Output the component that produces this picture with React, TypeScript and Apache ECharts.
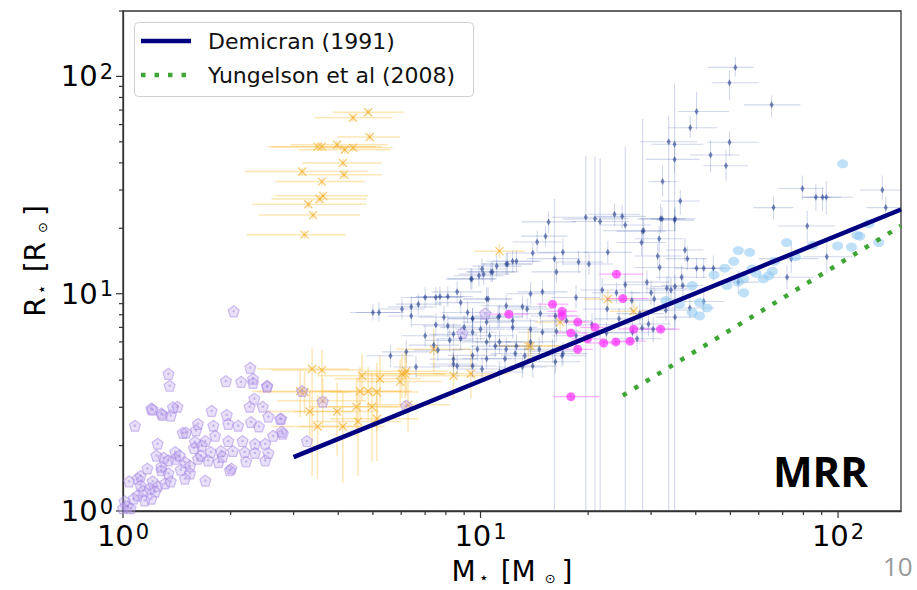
import React, { useEffect, useRef } from 'react';
import * as echarts from 'echarts';

// Axis ranges and ticks
const X_MIN = 1;
const X_MAX = 150;
const Y_MIN = 1;
const Y_MAX = 200;
const majorTicks = [1, 10, 100];
const xMinorTicks = [2, 3, 4, 5, 6, 7, 8, 9, 20, 30, 40, 50, 60, 70, 80, 90];
const yMinorTicks = [2, 3, 4, 5, 6, 7, 8, 9, 20, 30, 40, 50, 60, 70, 80, 90, 200];

// Relations
const demircanLine = [[3, 1.77], [150, 24.4]];
const yungelsonLine = [[25, 3.4], [150, 20.5]];

// Purple pentagons [M, R]
const purpleStars = [
  [2.04, 8.3], [2.27, 4.56], [1.34, 4.28], [1.35, 3.77], [1.94, 3.96], [2.14, 3.93], [2.31, 3.89], [2.53, 3.77],
  [2.33, 3.29], [2.26, 3.02], [2.46, 3.02], [1.2, 2.96], [1.42, 3.02], [1.28, 2.81], [1.36, 2.75], [1.77, 2.89],
  [1.95, 2.77], [2.77, 2.66], [2.55, 2.72], [1.08, 2.47], [1.62, 2.52], [1.79, 2.47], [1.97, 2.52], [2.1, 2.47],
  [2.28, 2.57], [1.47, 2.29], [1.5, 2.3], [1.81, 2.22], [1.25, 2.04], [2.63, 2.22], [2.8, 2.27], [1.7, 2.1],
  [1.59, 2.08], [1.97, 2.1], [2.16, 2.1], [2.34, 2.04], [2.5, 2.04], [1.4, 1.87], [1.76, 1.87], [1.88, 1.89],
  [2.03, 1.89], [2.19, 1.87], [2.34, 1.85], [2.55, 1.85], [1.24, 1.8], [1.3, 1.76], [1.4, 1.74], [1.34, 1.71],
  [1.49, 1.68], [1.54, 1.61], [1.62, 1.74], [1.73, 1.71], [1.85, 1.68], [2.01, 1.57], [2.21, 1.69], [2.5, 1.71],
  [1.17, 1.57], [1.28, 1.54], [1.34, 1.49], [1.54, 1.49], [1.49, 1.41], [1.7, 1.38], [1.99, 1.54], [1.1, 1.41],
  [1.04, 1.37], [1.21, 1.37], [1.19, 1.27], [1.25, 1.3], [1.23, 1.23], [1.31, 1.34], [1.36, 1.37], [1.1, 1.18],
  [1.07, 1.14], [1.15, 1.12], [1.2, 1.14], [1.01, 1.11], [1.03, 1.05], [1.0, 1.03], [1.05, 1.03], [1.14, 1.24],
  [1.12, 1.31], [1.44, 1.8], [1.65, 1.8], [2.75, 2.66], [2.78, 2.32], [3.27, 2.1], [2.31, 4.06], [2.53, 3.73],
  [1.21, 2.93], [1.29, 2.77], [1.38, 3.0], [3.17, 3.57], [3.62, 3.19], [6.2, 3.05], [10.3, 8.1], [8.9, 6.6],
  [1.58, 1.95], [1.66, 2.0], [1.9, 1.78], [1.28, 1.6], [1.45, 1.55], [1.12, 1.45], [2.4, 2.45], [1.6, 2.35],
];

// Orange crosses with error bars [M, R, Mlo, Mhi, Rlo, Rhi]
const orangeStars = [
  [4.85, 68.4, 3.86, 6.09, 66, 71], [4.4, 64.5, 3.44, 5.68, 62, 67], [4.9, 52.6, 3.97, 5.96, 50.5, 55],
  [3.5, 47.5, 2.55, 5.3, 45.5, 49.5], [3.6, 47.5, 2.6, 5.1, 45.5, 49.5], [3.97, 48.5, 2.94, 5.5, 46.5, 50.5],
  [4.17, 46, 3.1, 5.6, 44, 48], [4.4, 47, 3.44, 5.68, 45, 49], [4.12, 40, 3.17, 5.3, 38.3, 41.8],
  [4.15, 35.3, 3.1, 5.3, 33.8, 36.8], [3.17, 36.5, 2.19, 4.84, 35, 38], [3.6, 32.8, 2.66, 4.75, 31.4, 34.2],
  [3.63, 28.2, 2.66, 4.84, 27, 29.4], [3.55, 27.3, 2.6, 4.8, 26.2, 28.4], [3.3, 25.8, 2.3, 4.8, 24.7, 26.9],
  [3.4, 23, 2.4, 4.6, 22, 24], [3.22, 18.7, 2.22, 4.2, 17.9, 19.5],
  [3.38, 4.5, 2.37, 4.3, 1.45, 5.6], [3.6, 4.45, 2.6, 4.7, 3.4, 5.5], [3.13, 3.56, 2.3, 4.1, 2.7, 4.5],
  [3.22, 3.53, 2.4, 4.3, 2.8, 4.4], [3.62, 3.22, 2.7, 4.8, 2.4, 4.1], [3.33, 2.87, 2.5, 4.4, 2.2, 3.6],
  [3.97, 2.87, 3.0, 5.2, 1.8, 3.9], [3.5, 2.45, 2.6, 4.6, 1.4, 3.4], [4.12, 2.45, 3.1, 5.4, 1.35, 3.5],
  [4.66, 4.19, 3.5, 6.1, 3.2, 5.3], [5.23, 4.06, 3.9, 6.8, 3.1, 5.2], [4.6, 3.56, 3.4, 6.0, 2.7, 4.6],
  [4.85, 3.56, 3.6, 6.4, 2.6, 4.6], [5.13, 3.53, 3.8, 6.7, 2.3, 4.8], [4.5, 3.02, 3.3, 5.9, 2.2, 4.1],
  [4.97, 3.02, 3.7, 6.5, 1.7, 4.3], [4.54, 2.58, 3.4, 6.0, 1.45, 3.5], [5.13, 2.66, 3.8, 6.7, 1.7, 3.6],
  [5.96, 3.94, 4.5, 7.8, 3.0, 5.0], [6.15, 4.28, 4.7, 8.0, 3.3, 5.4], [6.27, 3.08, 4.8, 8.2, 2.3, 4.0],
  [6.03, 4.28, 4.6, 7.9, 3.3, 5.3], [6.2, 4.4, 4.7, 8.1, 3.4, 5.5], [8.4, 4.19, 6.6, 10.7, 3.3, 5.3],
  [9.4, 4.28, 7.4, 12, 3.3, 5.5], [13.6, 5.74, 11, 16.8, 4.8, 6.9], [7.4, 5.55, 5.8, 9.4, 4.4, 6.9],
  [11.3, 15.7, 9.6, 13.3, 14.5, 17], [13.8, 5.74, 11.3, 16.8, 4.9, 6.7], [22.7, 9.46, 19.4, 26.6, 8.6, 10.4],
  [16.7, 7.4, 14.2, 19.6, 6.7, 8.2], [26.8, 8.3, 23, 31.3, 7.5, 9.2],
];

// Blue points with error bars [M, R, Mlo, Mhi, Rlo, Rhi]
const blueStars = [
  [51.6, 110, 43.3, 58, 100, 123], [49.7, 93.5, 44.3, 60, 78, 107], [65.2, 74, 54.6, 78.5, 65, 82],
  [40.2, 69, 35.7, 49.5, 57, 85], [38.6, 58, 33.5, 46, 52, 66], [33.6, 50, 27.9, 40.4, 0.8, 66],
  [34.9, 48.7, 30, 42, 0.8, 93], [34.9, 41.5, 29, 41, 36, 48], [44, 43.5, 38.5, 53, 36, 51],
  [49.7, 49.8, 43, 60, 43, 56], [48.6, 38.8, 42, 56, 33, 46], [32.3, 32.8, 29.5, 35.5, 28, 39],
  [36.2, 26.7, 32, 41, 23, 30], [31.9, 22.1, 28, 36, 19, 26], [34.9, 21.8, 31, 39.5, 19.5, 24.5],
  [28.6, 19.5, 22, 35, 17, 22], [79.5, 30.5, 68, 91, 27, 35], [86.7, 27.8, 79, 96, 24, 32],
  [90.5, 27.8, 80, 102, 24, 31], [92.7, 27.8, 82, 110, 23, 33], [66, 24.9, 58, 75, 22, 28],
  [133, 30, 115, 150, 27, 35], [136, 24.9, 120, 150, 22, 28], [82, 20.5, 68, 98, 17, 24],
  [93, 14.8, 80, 110, 12.5, 18], [74, 14.5, 60, 88, 12.5, 17], [72, 11.9, 60, 86, 10.5, 13.5],
  [37.3, 15.9, 33, 42, 14, 18], [37.9, 14.5, 33, 43, 12.8, 16.5], [40.2, 13.1, 35, 46, 11.8, 14.6],
  [42.1, 13.1, 37, 48, 11.8, 14.6], [44.8, 13.1, 39, 51, 11.5, 15], [31.7, 13.2, 27, 37, 11.5, 15],
  [36.5, 11.9, 31, 43, 10.5, 13.5], [35, 10.8, 30, 40, 9.5, 12.2], [36.8, 10.9, 32, 42, 9.6, 12.4],
  [33.2, 10.6, 29, 38, 9.3, 12], [30, 10.1, 26, 35, 8.9, 11.5], [42.1, 9.2, 37, 48, 8.2, 10.4],
  [35, 7.8, 31, 40, 6.9, 8.8], [28.3, 6.95, 25, 32, 6.1, 7.9], [30.4, 6.87, 26.5, 35, 6.0, 7.8],
  [52.6, 11.3, 46, 60, 10, 12.8],
  [19.7, 22.5, 15.8, 25.5, 0.8, 42.9], [20.9, 22.1, 17, 26, 0.8, 42.9], [21.6, 21.5, 18, 26, 0.8, 42],
  [23.7, 23.2, 20, 28, 20.5, 26], [24.9, 22.7, 21, 29, 20, 25.5], [25.4, 20.7, 21.5, 30, 0.8, 47.5],
  [28.4, 19.4, 24, 33, 0.8, 63.6], [28.2, 17.2, 24, 33, 15, 19.5], [32.2, 22.1, 27.5, 37.5, 19.5, 25],
  [35, 22.1, 30, 40, 19.5, 25], [15.5, 21.4, 13, 18.5, 19, 24], [15.2, 18.4, 13, 17.5, 16.5, 20.5],
  [14.4, 17.3, 12.3, 16.8, 15.5, 19.5], [14, 15.4, 11.8, 16.5, 13.8, 17.2], [12.3, 14.1, 10.4, 14.5, 12.6, 15.8],
  [11.8, 13.7, 10, 14, 12.2, 15.4], [10.8, 12.6, 9.2, 12.8, 11.3, 14], [10.2, 12.3, 8.7, 12, 11, 13.8],
  [17, 15.5, 14.5, 20, 13.5, 18], [16.1, 14.5, 13.5, 19, 0.8, 27.3], [22.7, 15.5, 19.5, 26.5, 13.8, 17.5],
  [20.1, 13.7, 17, 23.5, 12.2, 15.4], [18.8, 14, 16, 22, 12.5, 15.8], [31.6, 17.9, 27, 37, 15.5, 20.5],
  [31.3, 14.9, 27, 36.5, 13, 17], [25.4, 11, 22, 29.5, 9.8, 12.4], [29.2, 11.3, 25, 34, 10, 12.8],
  [34.1, 10.4, 29.5, 39.5, 9.2, 11.8], [30.6, 9.46, 26.5, 35.5, 8.4, 10.7], [21.9, 10.4, 19, 25.5, 9.2, 11.8],
  [13.8, 10, 11.8, 16.2, 8.9, 11.3], [14.9, 10.2, 12.7, 17.5, 9, 11.5], [18.5, 9.6, 15.8, 21.5, 8.5, 10.9],
  [11.8, 8.8, 10, 13.8, 7.8, 9.9], [13.1, 8.7, 11.2, 15.3, 7.7, 9.8], [10.5, 9.46, 9, 12.3, 8.4, 10.7],
  [14.7, 8.1, 12.5, 17.2, 7.2, 9.1], [16.2, 7.9, 13.8, 19, 7, 8.9], [17.4, 7.5, 14.8, 20.5, 6.6, 8.5],
  [22.6, 8.5, 19.3, 26.5, 7.5, 9.6], [24.4, 7.66, 20.8, 28.5, 6.8, 8.6], [27.9, 8.1, 24, 32.5, 7.2, 9.1],
  [29.5, 7.25, 25.5, 34, 6.4, 8.2], [11.3, 7.9, 9.6, 13.2, 7, 8.9], [10.4, 7.4, 8.9, 12.2, 6.6, 8.3],
  [12.3, 7.0, 10.5, 14.4, 6.2, 7.9], [13.8, 6.87, 11.8, 16.2, 6.1, 7.7], [14.9, 6.65, 12.7, 17.5, 5.9, 7.5],
  [16.3, 6.72, 13.9, 19.1, 6, 7.6], [18.5, 6.4, 15.8, 21.7, 5.7, 7.2], [26.6, 6.65, 22.7, 31.2, 5.9, 7.5],
  [27.4, 6.2, 23.4, 32.1, 5.5, 7], [10.6, 6.4, 9, 12.4, 5.7, 7.2], [11.3, 6.0, 9.6, 13.2, 5.3, 6.8],
  [12.6, 5.74, 10.8, 14.8, 5.1, 6.5], [13.8, 6.0, 11.8, 16.2, 5.3, 6.8], [14.6, 5.55, 12.5, 17.1, 4.9, 6.3],
  [15.9, 5.44, 13.6, 18.6, 4.8, 6.2], [17, 5.3, 14.5, 19.9, 4.7, 6], [10.4, 5.02, 8.9, 12.2, 4.5, 5.6],
  [11.7, 5.02, 10, 13.7, 4.5, 5.6], [13.3, 5.18, 11.4, 15.6, 4.6, 5.8], [16.2, 4.86, 13.8, 19, 4.3, 5.5],
  [10.1, 4.5, 8.6, 11.8, 4, 5.1], [11.3, 4.36, 9.6, 13.2, 3.9, 4.9], [14, 4.65, 12, 16.4, 4.1, 5.2],
  [5.0, 8.2, 4.32, 5.96, 7.5, 9], [5.2, 8.2, 4.5, 6.1, 7.4, 9.1], [6.03, 8.5, 5.2, 7, 7.6, 9.5],
  [6.4, 8.7, 5.5, 7.4, 7.8, 9.7], [6.7, 8.95, 5.8, 7.8, 8, 10], [7.0, 9.6, 6, 8.2, 8.6, 10.7],
  [7.5, 9.6, 6.4, 8.8, 8.6, 10.7], [7.7, 9.7, 6.6, 9, 8.7, 10.8], [8.1, 9.7, 6.9, 9.5, 8.7, 10.8],
  [8.6, 10.2, 7.3, 10.1, 9.1, 11.4], [9.46, 11.7, 8.1, 11.1, 10.5, 13], [9.9, 12.1, 8.4, 11.6, 10.8, 13.5],
  [10.7, 12.6, 9.1, 12.5, 11.3, 14], [10.1, 13.0, 8.6, 11.8, 11.6, 14.5], [11.1, 13.4, 9.5, 13, 12, 15],
  [6.4, 7.9, 5.5, 7.4, 7, 8.9], [5.6, 5.18, 4.8, 6.5, 4.6, 5.8], [6.2, 5.4, 5.3, 7.2, 4.8, 6.1],
  [7.0, 6.4, 6, 8.2, 5.7, 7.2], [7.5, 7.2, 6.4, 8.8, 6.4, 8.1], [7.9, 7.8, 6.7, 9.2, 6.9, 8.8],
  [8.1, 7.1, 6.9, 9.5, 6.3, 8], [7.4, 5.8, 6.3, 8.7, 5.2, 6.5], [7.6, 5.5, 6.5, 8.9, 4.9, 6.2],
  [8.4, 6.5, 7.2, 9.8, 5.8, 7.3], [8.8, 6.2, 7.5, 10.3, 5.5, 7], [8.4, 5.0, 7.2, 9.8, 4.5, 5.6],
  [8.6, 4.65, 7.3, 10.1, 4.1, 5.2], [9.2, 8.2, 7.8, 10.8, 7.3, 9.2], [9.5, 7.7, 8.1, 11.1, 6.9, 8.6],
  [9.0, 7.0, 7.7, 10.5, 6.2, 7.9], [9.5, 6.65, 8.1, 11.1, 5.9, 7.5], [10, 6.87, 8.5, 11.7, 6.1, 7.7],
  [9.5, 5.2, 8.1, 11.1, 4.6, 5.8], [10.4, 9.46, 8.9, 12.2, 8.4, 10.7], [6.6, 4.6, 5.7, 7.7, 4.1, 5.2],
  [8.8, 9.1, 7.5, 10.3, 8.1, 10.2], [10.4, 6.0, 8.9, 12.2, 5.3, 6.8],
  [11.9, 13.7, 10.2, 13.9, 12.2, 15.4], [12.6, 14.1, 10.8, 14.8, 12.6, 15.8], [9.4, 11.7, 8, 11, 10.4, 13.1],
  [16.3, 12.6, 13.9, 19.1, 11.2, 14.1], [9.5, 7.66, 8.1, 11.1, 6.8, 8.6], [11.2, 7.8, 9.6, 13.1, 6.9, 8.8],
  [12.3, 7.5, 10.5, 14.4, 6.7, 8.4], [13.5, 8.5, 11.5, 15.8, 7.6, 9.5], [8.2, 6.1, 7, 9.6, 5.4, 6.9],
  [9.8, 5.55, 8.4, 11.5, 4.9, 6.3], [11, 5.74, 9.4, 12.9, 5.1, 6.5], [11.8, 5.55, 10.1, 13.8, 4.9, 6.3],
  [12.5, 5.3, 10.7, 14.6, 4.7, 6], [8.4, 4.75, 7.2, 9.8, 4.2, 5.4], [9.5, 4.65, 8.1, 11.1, 4.1, 5.2],
  [13.1, 4.6, 11.2, 15.3, 4.1, 5.2], [16.9, 5.18, 14.4, 19.8, 4.6, 5.8],
  [24, 10.1, 20.5, 28, 9, 11.3], [26.5, 9.3, 22.6, 31, 8.3, 10.4], [20.5, 7.2, 17.5, 24, 6.4, 8.1],
  [22.5, 6.6, 19.2, 26.3, 5.9, 7.4], [33, 8.4, 28.2, 38.6, 7.5, 9.4], [38.5, 8.6, 33, 45, 7.7, 9.6],
];

// Magenta points [M, R, Mlo, Mhi, Rlo, Rhi]
const magentaStars = [
  [24, 12.3, 21.5, 28.5, 11.9, 12.7], [25, 9.5, 22.5, 29.5, 9.2, 9.8], [15.9, 8.95, 14.4, 17.6, 8.7, 9.2],
  [16.9, 8.3, 15.4, 18.6, 8.05, 8.55], [16.9, 7.9, 15.4, 18.6, 7.65, 8.15], [12, 8.05, 10.4, 13.6, 7.8, 8.3],
  [18.7, 7.4, 17, 20.6, 7.2, 7.6], [20.9, 7.0, 19, 23, 6.8, 7.2], [26.8, 6.87, 24.3, 29.6, 6.67, 7.07],
  [31.9, 6.87, 28.6, 36, 6.67, 7.07], [17.9, 6.6, 16.2, 19.8, 6.4, 6.8], [19.9, 6.2, 18, 22, 6.0, 6.4],
  [22.1, 5.93, 20, 24.5, 5.75, 6.1], [23.9, 6.0, 21.6, 26.5, 5.8, 6.2], [26.2, 6.05, 23.7, 29, 5.85, 6.25],
  [18.7, 5.55, 17, 20.6, 5.38, 5.72], [17.9, 3.36, 16, 21.5, 3.26, 3.46],
];

// Light blue points [M, R]
const cyanStars = [
  [103, 39.6], [71.8, 17.2], [52.6, 15.8], [56.6, 15.5], [51.1, 14.1], [48.2, 13.1], [76, 14.8], [66.4, 14.1],
  [48.9, 10.9], [54.5, 11.7], [52.6, 11.3], [57.5, 13.0], [61.8, 11.7], [64, 12.1], [65.5, 12.7], [54.5, 10.1],
  [39.1, 10.9], [41, 9.1], [43, 8.6], [39.1, 8.2], [41, 7.9], [36, 8.95], [99.7, 16.6], [109, 16.4],
  [113, 18.6], [115, 18.4], [122, 21], [130, 17.2], [85, 16.7], [59, 12.4], [45, 12.2], [33, 9.3],
];

const FONT = 'DejaVu Sans';
const PENTAGON = 'path://M0,-10L9.51,-3.09L5.88,8.09L-5.88,8.09L-9.51,-3.09Z';

const tickLabel = (v: number) => {
  const e = Math.log10(v);
  if (Math.abs(e - Math.round(e)) > 1e-6) return '';
  return `{b|10}{e|${Math.round(e)}}`;
};
const labelRich = {
  b: { fontSize: 29, fontFamily: FONT, color: '#000', lineHeight: 30 },
  e: { fontSize: 21, fontFamily: FONT, color: '#000', verticalAlign: 'top', padding: [0, 0, 0, 2] },
};
const nameRich = {
  n: { fontSize: 28, fontFamily: FONT, color: '#000' },
  st: { fontSize: 16, fontFamily: FONT, color: '#000', verticalAlign: 'bottom', padding: [0, 12, 0, 3] },
  od: { fontSize: 13, fontFamily: FONT, color: '#000', verticalAlign: 'bottom', padding: [0, 6, 0, 9] },
};

const errRender = (lineColor: string, lw: number, marker: string, markerColor: string) =>
  (params: any, api: any) => {
    const x = api.value(0);
    const y = api.value(1);
    const c = api.coord([x, y]);
    const l = api.coord([api.value(2), y]);
    const r = api.coord([api.value(3), y]);
    const b = api.coord([x, api.value(4)]);
    const t = api.coord([x, api.value(5)]);
    const children: any[] = [
      { type: 'line', shape: { x1: l[0], y1: c[1], x2: r[0], y2: c[1] }, style: { stroke: lineColor, lineWidth: lw } },
      { type: 'line', shape: { x1: c[0], y1: b[1], x2: c[0], y2: t[1] }, style: { stroke: lineColor, lineWidth: lw } },
    ];
    if (marker === 'x') {
      const s = 4;
      children.push(
        { type: 'line', shape: { x1: c[0] - s, y1: c[1] - s, x2: c[0] + s, y2: c[1] + s }, style: { stroke: markerColor, lineWidth: 1.3 } },
        { type: 'line', shape: { x1: c[0] - s, y1: c[1] + s, x2: c[0] + s, y2: c[1] - s }, style: { stroke: markerColor, lineWidth: 1.3 } },
      );
    }
    return { type: 'group', children };
  };

const tickData = [
  ...majorTicks.map((v) => [v, Y_MIN, 7, 0]),
  ...xMinorTicks.map((v) => [v, Y_MIN, 4, 0]),
  ...majorTicks.map((v) => [X_MIN, v, 7, 1]),
  ...yMinorTicks.map((v) => [X_MIN, v, 4, 1]),
];

export default function App() {
  const ref = useRef<HTMLDivElement>(null);
  useEffect(() => {
    if (!ref.current) return;
    const chart = echarts.init(ref.current, null, { renderer: 'svg' });
    const option: any = {
      animation: false,
      backgroundColor: '#fff',
      grid: { left: 123, right: 16, top: 11, bottom: 77, show: true, borderColor: '#333', borderWidth: 1.3, backgroundColor: 'transparent' },
      xAxis: {
        type: 'log', logBase: 10, min: X_MIN, max: X_MAX,
        axisLine: { show: true, lineStyle: { color: '#333', width: 1.3 } },
        axisTick: { show: false }, splitLine: { show: false }, minorTick: { show: false },
        axisLabel: { formatter: tickLabel, rich: labelRich, margin: 10, showMaxLabel: false },
        name: '{n|M}{st|⋆}{n|[M}{od|⊙}{n|]}', nameLocation: 'middle', nameGap: 46,
        nameTextStyle: { rich: nameRich },
      },
      yAxis: {
        type: 'log', logBase: 10, min: Y_MIN, max: Y_MAX,
        axisLine: { show: true, lineStyle: { color: '#333', width: 1.3 } },
        axisTick: { show: false }, splitLine: { show: false }, minorTick: { show: false },
        axisLabel: { formatter: tickLabel, rich: labelRich, margin: 10, showMaxLabel: false },
        name: '{n|R}{st|⋆}{n|[R}{od|⊙}{n|]}', nameLocation: 'middle', nameGap: 74,
        nameTextStyle: { rich: nameRich },
      },
      series: [
        {
          type: 'custom', name: 'ticks', data: tickData, clip: false, silent: true, encode: { x: 0, y: 1 },
          renderItem: (params: any, api: any) => {
            const p = api.coord([api.value(0), api.value(1)]);
            const len = api.value(2);
            const isY = api.value(3) === 1;
            return {
              type: 'line',
              shape: isY ? { x1: p[0], y1: p[1], x2: p[0] - len, y2: p[1] } : { x1: p[0], y1: p[1], x2: p[0], y2: p[1] + len },
              style: { stroke: '#333', lineWidth: 1.2 },
            };
          },
        },
        {
          type: 'scatter', name: 'purple', data: purpleStars, symbol: PENTAGON, symbolSize: 11,
          itemStyle: { color: 'rgba(190,165,238,0.45)', borderColor: 'rgba(160,128,225,0.6)', borderWidth: 1.2 },
        },
        {
          type: 'scatter', name: 'purpleDot', data: purpleStars, symbol: 'circle', symbolSize: 2.5,
          itemStyle: { color: 'rgba(150,120,220,0.55)' },
        },
        {
          type: 'custom', name: 'orange', data: orangeStars, clip: true, encode: { x: 0, y: 1 },
          renderItem: errRender('rgba(250,196,80,0.42)', 1.5, 'x', 'rgba(245,175,45,0.7)'),
        },
        {
          type: 'custom', name: 'blueErr', data: blueStars, clip: true, encode: { x: 0, y: 1 },
          renderItem: errRender('rgba(70,100,175,0.25)', 1.1, 'none', ''),
        },
        {
          type: 'scatter', name: 'blue', data: blueStars.map((d) => [d[0], d[1]]), symbol: 'diamond', symbolSize: [4, 7],
          itemStyle: { color: 'rgba(35,60,140,0.75)' },
        },
        {
          type: 'custom', name: 'magentaErr', data: magentaStars, clip: true, encode: { x: 0, y: 1 },
          renderItem: errRender('rgba(255,80,255,0.45)', 1.2, 'none', ''),
        },
        {
          type: 'scatter', name: 'magenta', data: magentaStars.map((d) => [d[0], d[1]]), symbol: 'circle', symbolSize: 9,
          itemStyle: { color: 'rgba(255,40,255,0.85)' },
        },
        {
          type: 'line', name: 'Demicran (1991)', data: demircanLine, showSymbol: false, symbol: 'none',
          lineStyle: { color: '#000080', width: 4.5 },
        },
        {
          type: 'line', name: 'Yungelson et al (2008)', data: yungelsonLine, showSymbol: false, symbol: 'none',
          lineStyle: { color: '#3fa535', width: 4.5, type: [4.5, 9], cap: 'butt' },
        },
        {
          type: 'scatter', name: 'cyan', data: cyanStars, symbol: 'circle', symbolSize: [11, 9],
          itemStyle: { color: 'rgba(140,200,240,0.7)' },
        },
      ],
      graphic: [
        {
          type: 'rect', left: 134, top: 22, shape: { width: 339, height: 74, r: 4 },
          style: { fill: 'rgba(255,255,255,0.85)', stroke: '#d0d0d0', lineWidth: 1 }, z: 10,
        },
        { type: 'line', shape: { x1: 141, y1: 41, x2: 191, y2: 41 }, style: { stroke: '#000080', lineWidth: 4.5 }, z: 11 },
        {
          type: 'line', shape: { x1: 141, y1: 75, x2: 191, y2: 75 },
          style: { stroke: '#3fa535', lineWidth: 4.5, lineDash: [4.5, 9] }, z: 11,
        },
        {
          type: 'text', x: 208, y: 41, z: 11,
          style: { text: 'Demicran (1991)', font: `22px "${FONT}"`, fill: '#111', verticalAlign: 'middle' },
        },
        {
          type: 'text', x: 208, y: 75, z: 11,
          style: { text: 'Yungelson et al (2008)', font: `22px "${FONT}"`, fill: '#111', verticalAlign: 'middle' },
        },
        {
          type: 'text', x: 773, y: 470, z: 11,
          style: { text: 'MRR', font: 'bold 42px "Open Sans"', fill: '#000', verticalAlign: 'middle' },
        },
        {
          type: 'text', x: 883, y: 566, z: 11,
          style: { text: '10', font: '26px "Open Sans"', fill: '#999', verticalAlign: 'middle' },
        },
      ],
    };
    chart.setOption(option);
    return () => chart.dispose();
  }, []);
  return <div ref={ref} style={{ position: 'absolute', left: 0, top: 0, width: 917, height: 590 }} />;
}
